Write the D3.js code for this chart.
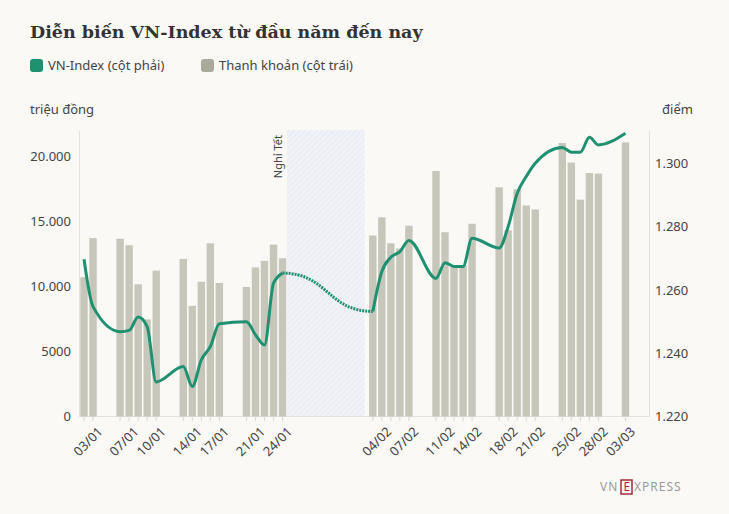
<!DOCTYPE html>
<html><head><meta charset="utf-8">
<script src="https://cdn.jsdelivr.net/npm/d3@7"></script>
<style>
body{margin:0;background:#faf9f6;font-family:"Source Sans Pro","Noto Sans",sans-serif;}
</style></head><body><div id="chart"></div>
<script>
var dates = ["02/01/2025","03/01/2025","06/01/2025","07/01/2025","08/01/2025","09/01/2025","10/01/2025",
  "13/01/2025","14/01/2025","15/01/2025","16/01/2025","17/01/2025","20/01/2025","21/01/2025","22/01/2025","23/01/2025","24/01/2025",
  "03/02/2025","04/02/2025","05/02/2025","06/02/2025","07/02/2025","10/02/2025","11/02/2025","12/02/2025","13/02/2025","14/02/2025",
  "17/02/2025","18/02/2025","19/02/2025","20/02/2025","21/02/2025","24/02/2025","25/02/2025","26/02/2025","27/02/2025","28/02/2025","03/03/2025"];
var liquidity = [10700,13700,13650,13150,10150,7450,11200,12100,8500,10350,13300,10250,9950,11450,11950,13200,12150,
  13900,15300,13300,12900,14650,18850,14150,11500,11600,14800,17600,14300,17450,16200,15900,21000,19500,16650,18700,18650,21050];
var vnindex = [1269.7,1254.7,1246.8,1247.2,1251.4,1248.4,1230.9,1235.8,1229.5,1237.9,1242.1,1249.3,1249.9,1245.8,1242.6,1262.1,1265.3,
  1253.2,1265.8,1270.3,1272.1,1275.6,1263.6,1268.6,1267.4,1267.4,1276.3,1273.2,1280.0,1290.5,1295.8,1300.0,1305.0,1303.5,1303.5,1308.2,1305.8,1309.5];
var tickLabels = ["03/01","07/01","10/01","14/01","17/01","21/01","24/01","04/02","07/02","11/02","14/02","18/02","21/02","25/02","28/02","03/03"];
var leftTicks = [0,5000,10000,15000,20000];
var rightTicks = [1220,1240,1260,1280,1300];
var holiday = ["24/01/2025","03/02/2025"];

var parse = d3.timeParse("%d/%m/%Y");
var fmt = d3.timeFormat("%d/%m");
var data = dates.map(function(d,i){ return {date:parse(d), liq:liquidity[i], idx:vnindex[i]}; });

var W = 729, H = 514;
var svg = d3.select("#chart").append("svg").attr("width",W).attr("height",H);
var green = "#1f9170", grey = "#c6c6ba";

svg.append("text").attr("x",30).attr("y",38).text("Diễn biến VN-Index từ đầu năm đến nay")
  .style("font-family","'DejaVu Serif',serif").style("font-weight","bold").style("font-size","17.5px").attr("fill","#333");

// legend
svg.append("rect").attr("x",30).attr("y",59).attr("width",13).attr("height",13).attr("rx",3).attr("fill",green);
svg.append("text").attr("x",48).attr("y",70).text("VN-Index (cột phải)").style("font-size","13px").attr("fill","#444");
svg.append("rect").attr("x",201).attr("y",59).attr("width",13).attr("height",13).attr("rx",3).attr("fill","#a9aa9b");
svg.append("text").attr("x",219).attr("y",70).text("Thanh khoản (cột trái)").style("font-size","13px").attr("fill","#444");

svg.append("text").attr("x",30).attr("y",114).text("triệu đồng").style("font-size","13px").attr("fill","#444");
svg.append("text").attr("x",662).attr("y",114).text("điểm").style("font-size","13px").attr("fill","#444");

var x = d3.scaleTime().domain([parse("02/01/2025"),parse("03/03/2025")]).range([84,625.5]);
var yL = d3.scaleLinear().domain([0,22000]).range([416.5,130]);
var yR = d3.scaleLinear().domain([1220,1310.5]).range([416.5,130]);

// holiday band
var defs = svg.append("defs");
var pat = defs.append("pattern").attr("id","hatch").attr("width",4).attr("height",4)
  .attr("patternUnits","userSpaceOnUse").attr("patternTransform","rotate(45)");
pat.append("rect").attr("width",4).attr("height",4).attr("fill","#f0f2f8");
pat.append("line").attr("x1",0).attr("y1",0).attr("x2",0).attr("y2",4).attr("stroke","#e2e5ef").attr("stroke-width",1);
var hx0 = x(parse(holiday[0]))+4.5, hx1 = x(parse(holiday[1]))-8;
svg.append("rect").attr("x",hx0).attr("y",130).attr("width",hx1-hx0).attr("height",416.5-130).attr("fill","url(#hatch)");
svg.append("text").attr("transform","translate("+(hx0-5)+",135) rotate(-90)").attr("text-anchor","end")
  .text("Nghỉ Tết").style("font-size","11px").attr("fill","#444");

// axes
var axL = svg.append("g").attr("transform","translate(79,0)")
  .call(d3.axisLeft(yL).tickValues(leftTicks).tickSize(0).tickPadding(8)
  .tickFormat(function(d){ return d>=10000 ? d3.format(",")(d).replace(/,/g,".") : d; }));
var axR = svg.append("g").attr("transform","translate(649,0)")
  .call(d3.axisRight(yR).tickValues(rightTicks).tickSize(0).tickPadding(6)
  .tickFormat(function(d){ return d3.format(",.3f")(d/1000).replace(/,/g,""); }));
[axL,axR].forEach(function(a){
  a.select(".domain").attr("stroke","#e3e3de");
  a.selectAll("text").style("font-size","13px").attr("fill","#444").style("font-family","'Source Sans Pro','Noto Sans',sans-serif");
});
svg.append("line").attr("x1",79).attr("x2",649).attr("y1",416.5).attr("y2",416.5).attr("stroke","#e3e3de");

// bars
svg.selectAll(".bar").data(data).enter().append("rect")
  .attr("x",function(d){ return x(d.date)-3.7; }).attr("width",7.4)
  .attr("y",function(d){ return yL(d.liq); }).attr("height",function(d){ return 416.5-yL(d.liq); })
  .attr("fill",grey);

// x ticks
svg.selectAll(".tk").data(data).enter().append("line")
  .attr("x1",function(d){ return x(d.date); }).attr("x2",function(d){ return x(d.date); })
  .attr("y1",416.5).attr("y2",421).attr("stroke","#d8d8d2");
svg.selectAll(".xl").data(data.filter(function(d){ return tickLabels.indexOf(fmt(d.date))>=0; })).enter().append("text")
  .attr("transform",function(d){ return "translate("+(x(d.date)+4)+",426) rotate(-45)"; })
  .attr("text-anchor","end").attr("dy","0.7em").text(function(d){ return fmt(d.date); })
  .style("font-size","13px").attr("fill","#444");

// line
var line = d3.line().x(function(d){ return x(d.date); }).y(function(d){ return yR(d.idx); }).curve(d3.curveMonotoneX);
var a = data.slice(0,17), b = data.slice(16,18), c = data.slice(17);
svg.append("path").datum(a).attr("d",line).attr("fill","none").attr("stroke",green).attr("stroke-width",3);
svg.append("path").datum(b).attr("d",d3.line().x(function(d){ return x(d.date); }).y(function(d){ return yR(d.idx); }).curve(d3.curveBumpX))
  .attr("fill","none").attr("stroke",green).attr("stroke-width",3).attr("stroke-dasharray","2,1");
svg.append("path").datum(c).attr("d",line).attr("fill","none").attr("stroke",green).attr("stroke-width",3);

// logo
var lg = svg.append("g").attr("transform","translate(600,491)");
lg.append("text").attr("x",0).attr("y",0).text("VN").style("font-size","12px").attr("fill","#9a9a9a").style("letter-spacing","1px");
lg.append("rect").attr("x",21).attr("y",-11).attr("width",11).attr("height",14).attr("fill","none").attr("stroke","#a8273c").attr("stroke-width",1.5);
lg.append("text").attr("x",23.5).attr("y",0).text("E").style("font-size","12px").attr("fill","#a8273c");
lg.append("text").attr("x",34).attr("y",0).text("XPRESS").style("font-size","12px").attr("fill","#9a9a9a").style("letter-spacing","1px");
</script></body></html>
